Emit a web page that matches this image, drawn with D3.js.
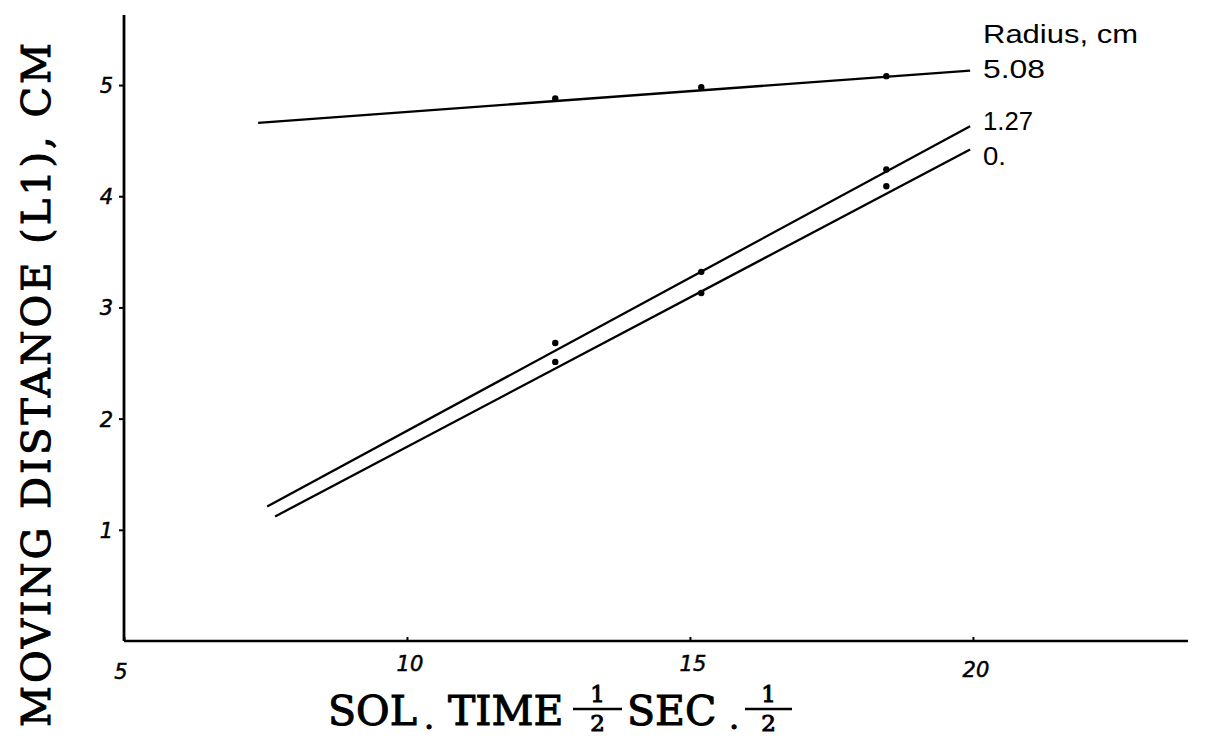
<!DOCTYPE html>
<html>
<head>
<meta charset="utf-8">
<script src="https://cdn.jsdelivr.net/npm/d3@7"></script>
<style>
  body { margin: 0; background: #fff; }
  svg { display: block; }
</style>
</head>
<body>
<svg id="chart"></svg>
<script>
// values (sol. time^1/2 vs moving distance)
const radii = ["5.08", "1.27", "0."];
const xPoints = [12.62, 15.2, 18.47];
const yPoints508 = [4.88, 4.98, 5.08];
const yPoints127 = [2.68, 3.32, 4.24];
const yPoints0 = [2.51, 3.13, 4.09];
// fitted line end points
const fitX508 = [7.37, 19.95];
const fitY508 = [4.66, 5.13];
const fitX127 = [7.53, 19.95];
const fitY127 = [1.21, 4.63];
const fitX0 = [7.67, 19.95];
const fitY0 = [1.12, 4.42];
const xTicks = [5, 10, 15, 20];
const xTickLabels = ["5", "10", "15", "20"];
const yTicks = [1, 2, 3, 4, 5];

const width = 1205, height = 738;
const svg = d3.select("#chart").attr("width", width).attr("height", height);

const x = d3.scaleLinear().domain([5, 23.8]).range([124, 1188]);
const y = d3.scaleLinear().domain([0, 5.63]).range([641, 15]);

const series = [
  { name: radii[0], px: xPoints, py: yPoints508, fx: fitX508, fy: fitY508, ly: 78, len: 62 },
  { name: radii[1], px: xPoints, py: yPoints127, fx: fitX127, fy: fitY127, ly: 130, len: 50 },
  { name: radii[2], px: xPoints, py: yPoints0, fx: fitX0, fy: fitY0, ly: 165, len: 23 }
];

// axes
const xAxis = d3.axisBottom(x).tickValues(xTicks).tickSize(-4).tickFormat("");
const yAxis = d3.axisLeft(y).tickValues(yTicks).tickSize(5).tickFormat("");

svg.append("g").attr("transform", `translate(0,${y(0)})`).call(xAxis)
  .call(g => g.select(".domain").attr("stroke-width", 2.4).attr("d", `M${x(5)},0H${x(23.8)}`))
  .call(g => g.selectAll(".tick line").attr("stroke-width", 2));
svg.append("g").attr("transform", `translate(${x(5)},0)`).call(yAxis)
  .call(g => g.select(".domain").attr("stroke-width", 2.8).attr("d", `M0,${y(0)}V${y(5.63)}`))
  .call(g => g.selectAll(".tick line").attr("stroke-width", 2));

// tick labels (hand lettered look)
svg.selectAll(".xlab").data(xTicks).join("text")
  .attr("class", "xlab")
  .attr("x", (d, i) => x(d) + (i === 0 ? -3 : 3))
  .attr("y", (d, i) => i === 0 ? 679 : (i === 3 ? 677 : 671))
  .attr("text-anchor", "middle")
  .attr("font-family", "DejaVu Sans")
  .attr("font-style", "italic")
  .attr("font-size", 21)
  .attr("stroke", "#000").attr("stroke-width", 0.5)
  .text((d, i) => xTickLabels[i]);

svg.selectAll(".ylab").data(yTicks).join("text")
  .attr("class", "ylab")
  .attr("x", 113)
  .attr("y", d => y(d) + 8)
  .attr("text-anchor", "end")
  .attr("font-family", "DejaVu Sans")
  .attr("font-style", "italic")
  .attr("font-size", 21)
  .attr("stroke", "#000").attr("stroke-width", 0.5)
  .text(d => d);

// fitted lines
const line = d3.line().x(d => x(d[0])).y(d => y(d[1]));
svg.selectAll(".fit").data(series).join("path")
  .attr("class", "fit")
  .attr("fill", "none")
  .attr("stroke", "#000")
  .attr("stroke-width", 2.3)
  .attr("d", s => line(d3.zip(s.fx, s.fy)));

// data points
series.forEach(s => {
  svg.append("g").selectAll("circle").data(d3.zip(s.px, s.py)).join("circle")
    .attr("cx", d => x(d[0]))
    .attr("cy", d => y(d[1]))
    .attr("r", 3.2)
    .attr("fill", "#000");
});

// legend labels at line ends
svg.append("text")
  .attr("x", 983).attr("y", 43)
  .attr("font-family", "Liberation Sans")
  .attr("font-size", 25)
  .attr("textLength", 155).attr("lengthAdjust", "spacingAndGlyphs")
  .text("Radius, cm");
svg.selectAll(".rlab").data(series).join("text")
  .attr("class", "rlab")
  .attr("x", 983)
  .attr("y", s => s.ly)
  .attr("font-family", "Liberation Sans")
  .attr("font-size", 26)
  .attr("textLength", s => s.len).attr("lengthAdjust", "spacingAndGlyphs")
  .text(s => s.name);

// y title
svg.append("text")
  .attr("transform", "translate(50,727) rotate(-90)")
  .attr("font-family", "DejaVu Serif")
  .attr("font-size", 40)
  .attr("stroke", "#000").attr("stroke-width", 1)
  .attr("textLength", 684)
  .attr("lengthAdjust", "spacing")
  .text("MOVING DISTANOE (L1), CM");

// x title with stacked halves
const xt = svg.append("g")
  .attr("font-family", "DejaVu Serif")
  .attr("stroke", "#000").attr("stroke-width", 1);
xt.append("text").attr("x", 328).attr("y", 725).attr("font-size", 41).text("SOL");
xt.append("text").attr("x", 424).attr("y", 729).attr("font-size", 32).text(".");
xt.append("text").attr("x", 448).attr("y", 725).attr("font-size", 41).text("TIME");
xt.append("text").attr("x", 627).attr("y", 725).attr("font-size", 41).text("SEC");
xt.append("text").attr("x", 729).attr("y", 729).attr("font-size", 32).text(".");
[[573, 622], [745, 792]].forEach(([a, b]) => {
  const m = (a + b) / 2;
  xt.append("line").attr("x1", a).attr("x2", b).attr("y1", 709).attr("y2", 709)
    .attr("stroke-width", 2.6);
  xt.append("text").attr("x", m).attr("y", 702).attr("font-size", 23)
    .attr("text-anchor", "middle").text("1");
  xt.append("text").attr("x", m).attr("y", 731).attr("font-size", 23)
    .attr("text-anchor", "middle").text("2");
});
</script>
</body>
</html>
